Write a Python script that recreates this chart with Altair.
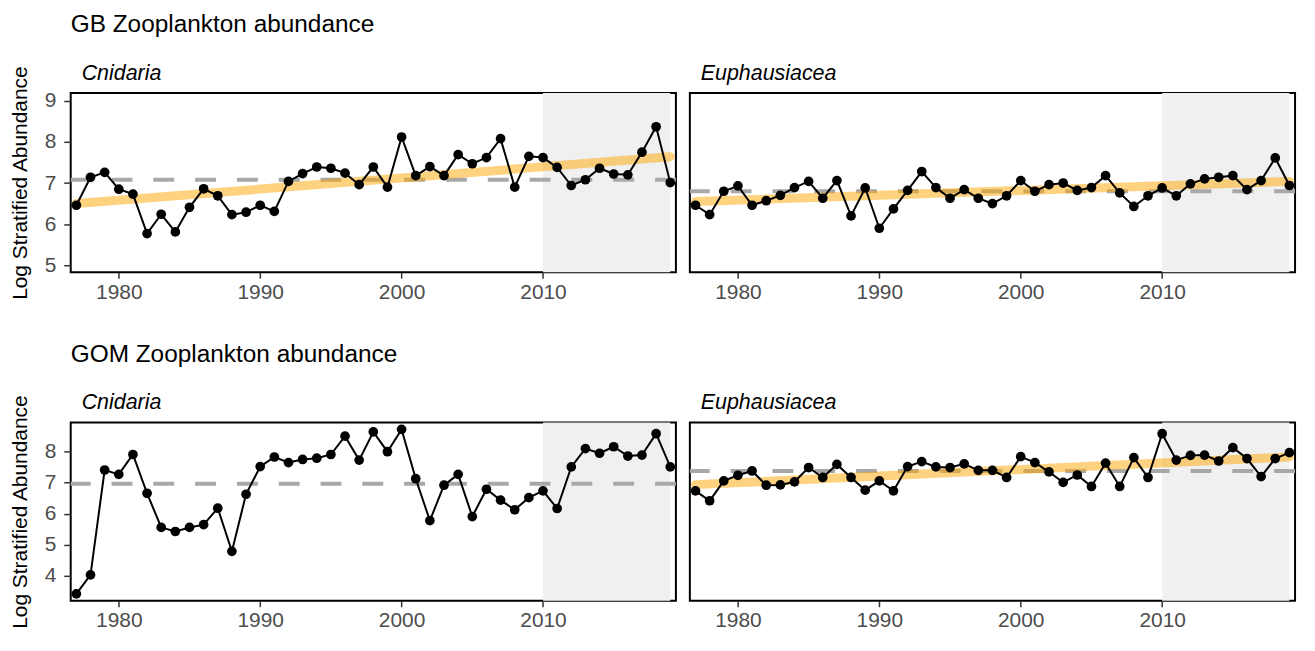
import altair as alt
import pandas as pd

years = list(range(1977, 2020))

gb_cnidaria = [6.46, 7.14, 7.26, 6.85, 6.73, 5.77, 6.24, 5.81, 6.41, 6.86, 6.69, 6.23, 6.29, 6.46, 6.31,
               7.04, 7.23, 7.39, 7.36, 7.24, 6.96, 7.39, 6.90, 8.12, 7.18, 7.40, 7.18, 7.69, 7.47, 7.62,
               8.08, 6.90, 7.65, 7.62, 7.38, 6.94, 7.08, 7.36, 7.22, 7.20, 7.75, 8.37, 7.01]
gb_euphausiacea = [6.46, 6.23, 6.80, 6.93, 6.46, 6.57, 6.70, 6.89, 7.04, 6.63, 7.06, 6.20, 6.88, 5.90, 6.37,
                   6.82, 7.28, 6.89, 6.63, 6.84, 6.63, 6.50, 6.69, 7.06, 6.80, 6.96, 7.00, 6.82, 6.89, 7.18,
                   6.76, 6.43, 6.69, 6.88, 6.69, 6.98, 7.10, 7.14, 7.18, 6.84, 7.06, 7.61, 6.94]
gom_cnidaria = [3.42, 4.03, 7.41, 7.27, 7.91, 6.66, 5.56, 5.43, 5.56, 5.65, 6.18, 4.79, 6.63, 7.52, 7.83,
                7.65, 7.75, 7.79, 7.91, 8.50, 7.73, 8.64, 8.00, 8.72, 7.13, 5.78, 6.92, 7.27, 5.91, 6.79,
                6.44, 6.13, 6.52, 6.74, 6.17, 7.51, 8.10, 7.95, 8.16, 7.86, 7.89, 8.58, 7.51]
gom_euphausiacea = [6.74, 6.42, 7.06, 7.24, 7.38, 6.92, 6.93, 7.03, 7.49, 7.17, 7.59, 7.17, 6.76, 7.06, 6.74,
                    7.52, 7.68, 7.51, 7.49, 7.61, 7.40, 7.40, 7.17, 7.84, 7.65, 7.35, 7.01, 7.25, 6.88, 7.63,
                    6.88, 7.81, 7.17, 8.58, 7.73, 7.88, 7.89, 7.70, 8.13, 7.78, 7.20, 7.78, 7.97]

# long-term means (dashed lines)
gb_cnidaria_mean = 7.08
gb_euphausiacea_mean = 6.80
gom_cnidaria_mean = 6.97
gom_euphausiacea_mean = 7.38

# trend endpoints (None = no significant trend)
trend_years = [1977, 2019]
gb_cnidaria_trend = [6.50, 7.64]
gb_euphausiacea_trend = [6.55, 7.04]
gom_cnidaria_trend = None
gom_euphausiacea_trend = [6.94, 7.83]

shade_years = [2010, 2019]
x_ticks = [1980, 1990, 2000, 2010]
x_domain = [1976.6, 2019.4]
gb_y_domain = [4.83, 9.19]
gb_y_ticks = [5, 6, 7, 8, 9]
gom_y_domain = [3.20, 8.94]
gom_y_ticks = [4, 5, 6, 7, 8]

FONT = "Liberation Sans"
W, H_TOP, H_BOT = 608, 180, 179
YTITLE = "Log Stratified Abundance"
YTITLE_SIZE = 21


def panel(values, mean, trend, ydom, yticks, strip, show_y, height):
    xs = alt.Scale(domain=x_domain, nice=False, zero=False)
    ys = alt.Scale(domain=ydom, nice=False, zero=False)
    xaxis = alt.Axis(values=x_ticks, format="d", title=None, grid=False, domain=False,
                     tickSize=6, tickWidth=1.5, tickColor="#333333", labelPadding=3,
                     labelFontSize=21, labelColor="#4D4D4D", labelFont=FONT)
    if show_y:
        yaxis = alt.Axis(values=yticks, format="d", title=YTITLE, grid=False,
                         domain=False, tickSize=7, tickWidth=1.5, tickColor="#333333",
                         labelPadding=8, labelFontSize=21, labelColor="#4D4D4D", labelFont=FONT,
                         titleFontSize=YTITLE_SIZE, titleFont=FONT, titleFontWeight="normal",
                         titleColor="black", titlePadding=14)
    else:
        yaxis = None
    X = alt.X("year:Q", scale=xs, axis=xaxis)
    Y = alt.Y("value:Q", scale=ys, axis=yaxis)

    shade = alt.Chart(pd.DataFrame({"year": [shade_years[0]], "year2": [shade_years[1]]})).mark_rect(
        color="#F0F0F0").encode(x=X, x2="year2:Q")
    mean_rule = alt.Chart(pd.DataFrame({"value": [mean]})).mark_rule(
        color="#A8A8A8", strokeWidth=4, strokeDash=[21, 21]).encode(y=Y)
    layers = [shade, mean_rule]
    if trend is not None:
        tr = alt.Chart(pd.DataFrame({"year": trend_years, "value": trend})).mark_line(
            color="#FFA500", strokeWidth=9, opacity=0.5, strokeCap="round").encode(x=X, y=Y)
        layers.append(tr)
    df = pd.DataFrame({"year": years, "value": values})
    line = alt.Chart(df).mark_line(color="black", strokeWidth=2).encode(x=X, y=Y)
    pts = alt.Chart(df).mark_circle(color="black", size=95, opacity=1).encode(x=X, y=Y)
    layers += [line, pts]
    # the rotated y-axis title is longer than the panel; compensate so strips sit on the panel
    overflow = (11.23 * YTITLE_SIZE - height) / 2 if show_y else 0
    return alt.layer(*layers).properties(
        width=W, height=height,
        title=alt.TitleParams(strip, anchor="start", frame="group", fontStyle="italic", fontSize=21.5,
                              font=FONT, fontWeight="normal", color="black", dx=11,
                              offset=9 - overflow),
    )


def row(title, a, b):
    return alt.hconcat(a, b, spacing=14, bounds="flush").properties(
        title=alt.TitleParams(title, anchor="start", frame="group", fontSize=24.5, font=FONT,
                              fontWeight="normal", color="black", offset=24)
    )


top = row("GB Zooplankton abundance",
          panel(gb_cnidaria, gb_cnidaria_mean, gb_cnidaria_trend, gb_y_domain, gb_y_ticks, "Cnidaria", True, H_TOP),
          panel(gb_euphausiacea, gb_euphausiacea_mean, gb_euphausiacea_trend, gb_y_domain, gb_y_ticks, "Euphausiacea", False, H_TOP))
bottom = row("GOM Zooplankton abundance",
             panel(gom_cnidaria, gom_cnidaria_mean, gom_cnidaria_trend, gom_y_domain, gom_y_ticks, "Cnidaria", True, H_BOT),
             panel(gom_euphausiacea, gom_euphausiacea_mean, gom_euphausiacea_trend, gom_y_domain, gom_y_ticks, "Euphausiacea", False, H_BOT))

chart = alt.vconcat(top, bottom, spacing=38).properties(
    padding={"left": 0, "top": 2, "right": -2, "bottom": -3}, background="white"
).configure_view(stroke="black", strokeWidth=2)

chart.save("out.html", embed_options={"renderer": "svg", "actions": False})
